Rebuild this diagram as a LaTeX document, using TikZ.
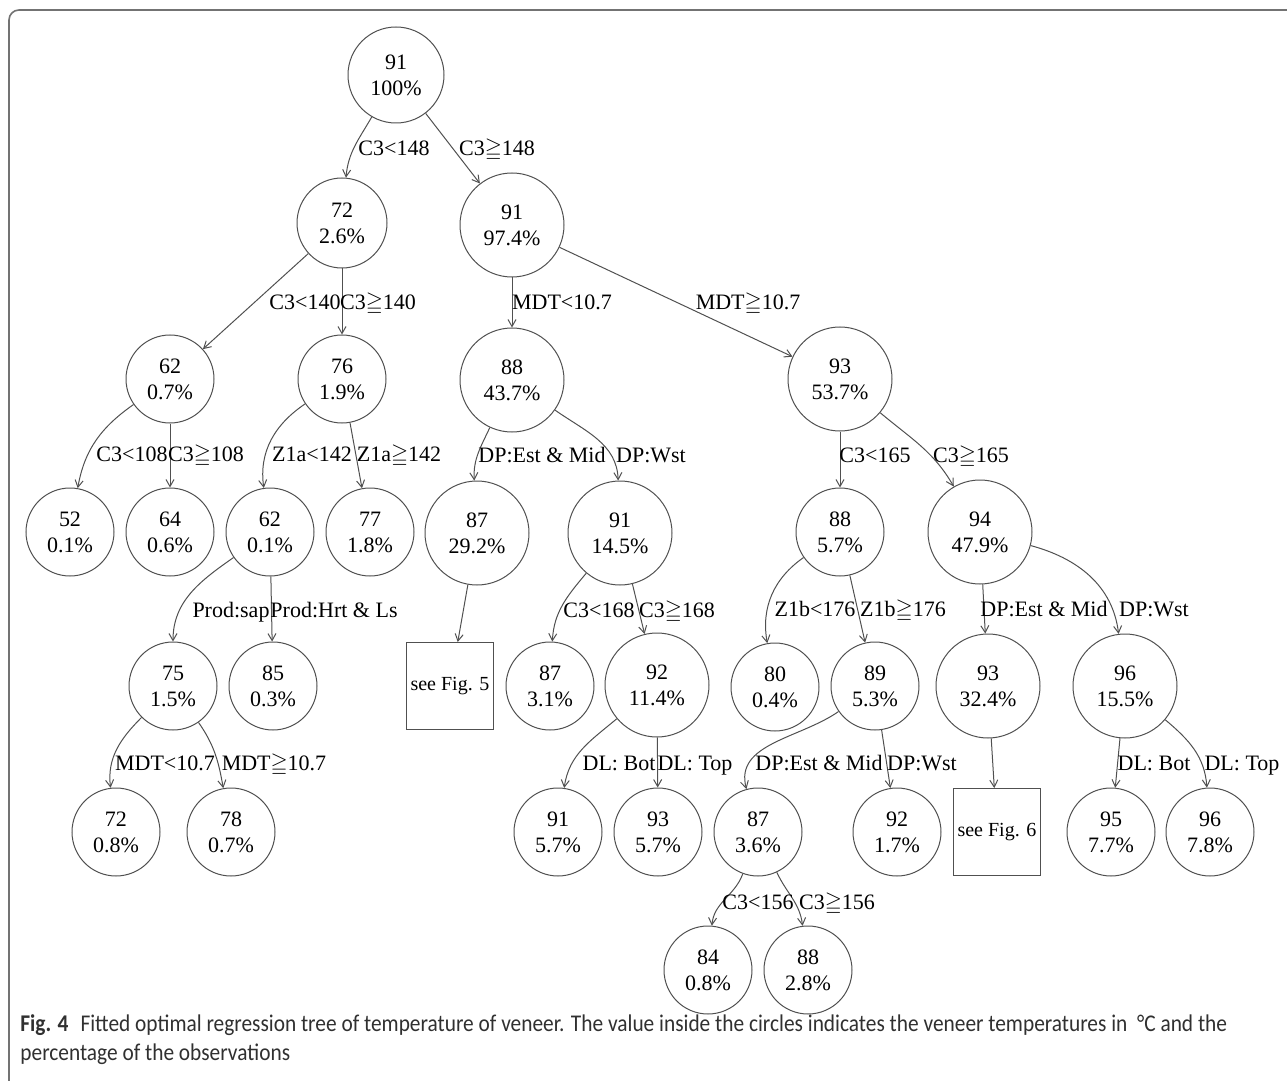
\documentclass[tikz,border=0pt]{standalone}
\usepackage{fontspec}
\usepackage{amssymb}
\setmainfont{Liberation Serif}
\newfontfamily\capfont[FakeStretch=0.89]{Carlito}
\usetikzlibrary{arrows.meta}
\definecolor{treegray}{HTML}{505050}
\definecolor{captext}{HTML}{303030}

\begin{document}
\begin{tikzpicture}[
    x=0.5pt, y=-0.5pt,
    font=\fontsize{11}{13}\selectfont,
    tnode/.style={circle,draw=treegray,line width=0.5pt,inner sep=0pt,minimum size=44pt,align=center},
    wide/.style={tnode,minimum size=52pt},
    figbox/.style={rectangle,draw=treegray,line width=0.5pt,inner sep=0pt,minimum size=43.5pt,font=\fontsize{10}{12}\selectfont},
    cond/.style={inner sep=0pt,text height=7.3pt,text depth=0pt},
    line/.style={treegray,line width=0.5pt,-{Straight Barb[length=3.5pt,width=4pt]}}
]
\useasboundingbox (0,0) rectangle (1287,1081);

% Frame
\draw[treegray!80,line width=0.8pt,rounded corners=5pt] (1287,10) -- (9,10) -- (9,1081);

% Tree nodes
\node[tnode,minimum size=48pt] (r) at (396,75) {91\\100\%};

\node[tnode,minimum size=45pt] (a) at (342,223) {72\\2.6\%};
\node[wide] (b) at (512,225) {91\\97.4\%};

\node[tnode] (aa) at (170,379) {62\\0.7\%};
\node[tnode] (ab) at (342,379) {76\\1.9\%};
\node[wide] (ba) at (512,380) {88\\43.7\%};
\node[wide] (bb) at (840,379) {93\\53.7\%};

\node[tnode] (aaa) at (70,532) {52\\0.1\%};
\node[tnode] (aab) at (170,532) {64\\0.6\%};
\node[tnode] (aba) at (270,532) {62\\0.1\%};
\node[tnode] (abb) at (370,532) {77\\1.8\%};
\node[wide] (baa) at (477,533) {87\\29.2\%};
\node[wide] (bab) at (620,533) {91\\14.5\%};
\node[tnode] (bba) at (840,532) {88\\5.7\%};
\node[wide] (bbb) at (980,532) {94\\47.9\%};

\node[tnode] (abaa) at (173,686) {75\\1.5\%};
\node[tnode] (abab) at (273,686) {85\\0.3\%};
\node[figbox] (baaa) at (450,686) {see Fig. 5};
\node[tnode] (baba) at (550,686) {87\\3.1\%};
\node[wide] (babb) at (657,685) {92\\11.4\%};
\node[tnode] (bbaa) at (775,687) {80\\0.4\%};
\node[tnode] (bbab) at (875,686) {89\\5.3\%};
\node[wide] (bbba) at (988,686) {93\\32.4\%};
\node[wide] (bbbb) at (1125,686) {96\\15.5\%};

\node[tnode] (abaaa) at (116,832) {72\\0.8\%};
\node[tnode] (abaab) at (231,832) {78\\0.7\%};
\node[tnode] (babba) at (558,832) {91\\5.7\%};
\node[tnode] (babbb) at (658,832) {93\\5.7\%};
\node[tnode] (bbaba) at (758,832) {87\\3.6\%};
\node[tnode] (bbabb) at (897,832) {92\\1.7\%};
\node[figbox] (bbbaa) at (997,832) {see Fig. 6};
\node[tnode] (bbbba) at (1111,832) {95\\7.7\%};
\node[tnode] (bbbbb) at (1210,832) {96\\7.8\%};

\node[tnode] (bbabaa) at (708,970) {84\\0.8\%};
\node[tnode] (bbabab) at (808,970) {88\\2.8\%};

% Straight splits
\draw[line] (r) -- (b);
\draw[line] (a) -- (aa);
\draw[line] (a) -- (ab);
\draw[line] (b) -- (ba);
\draw[line] (b) -- (bb);
\draw[line] (aa) -- (aab);
\draw[line] (ab) -- (abb);
\draw[line] (bb) -- (bba);
\draw[line] (aba) -- (abab);
\draw[line] (baa) -- (baaa);
\draw[line] (bab) -- (babb);
\draw[line] (bba) -- (bbab);
\draw[line] (bbb) -- (bbba);
\draw[line] (babb) -- (babbb);
\draw[line] (bbab) -- (bbabb);
\draw[line] (bbba) -- (bbbaa);
\draw[line] (bbbb) -- (bbbba);

% Curved splits
\draw[line] (r) to[out=240,in=85] (a);
\draw[line] (aa) to[out=215,in=80] (aaa);
\draw[line] (ab) to[out=214,in=98] (aba);
\draw[line] (ba) to[out=245,in=93] (baa);
\draw[line] (ba) to[out=-35,in=92] (bab);
\draw[line] (bb) to[out=-40,in=120] (bbb);
\draw[line] (aba) to[out=215,in=90] (abaa);
\draw[line] (bab) to[out=230,in=87] (baba);
\draw[line] (bba) to[out=215,in=100] (bbaa);
\draw[line] (bbb) to[out=-15,in=97] (bbbb);
\draw[line] (abaa) to[out=225,in=97] (abaaa);
\draw[line] (abaa) to[out=-55,in=100] (abaab);
\draw[line] (babb) to[out=220,in=82] (babba);
\draw[line] (bbab) to[out=215,in=105] (bbaba);
\draw[line] (bbbb) to[out=-40,in=94] (bbbbb);
\draw[line] (bbaba) to[out=250,in=85] (bbabaa);
\draw[line] (bbaba) to[out=-65,in=97] (bbabab);

% Split conditions
\node[cond] (rL) at (394,148) {C3<148};
\node[cond] (rR) at (497,148) {C3$\geqq$148};
\node[cond] (aL) at (305,302) {C3<140};
\node[cond] (aR) at (378,302) {C3$\geqq$140};
\node[cond] (bL) at (562,302) {MDT<10.7};
\node[cond] (bR) at (748,302) {MDT$\geqq$10.7};
\node[cond] (aaL) at (132,454) {C3<108};
\node[cond] (aaR) at (206,454) {C3$\geqq$108};
\node[cond] (abL) at (312,454) {Z1a<142};
\node[cond] (abR) at (399,454) {Z1a$\geqq$142};
\node[cond] (baL) at (542,455) {DP:Est \& Mid};
\node[cond] (baR) at (651,455) {DP:Wst};
\node[cond] (bbL) at (875,455) {C3<165};
\node[cond] (bbR) at (971,455) {C3$\geqq$165};
\node[cond] (abaL) at (231,610) {Prod:sap};
\node[cond] (abaR) at (334,610) {Prod:Hrt \& Ls};
\node[cond] (babL) at (599,610) {C3<168};
\node[cond] (babR) at (677,610) {C3$\geqq$168};
\node[cond] (bbaL) at (815,609) {Z1b<176};
\node[cond] (bbaR) at (903,609) {Z1b$\geqq$176};
\node[cond] (bbbL) at (1044,609) {DP:Est \& Mid};
\node[cond] (bbbR) at (1154,609) {DP:Wst};
\node[cond] (abaaL) at (165,763) {MDT<10.7};
\node[cond] (abaaR) at (274,763) {MDT$\geqq$10.7};
\node[cond] (babbL) at (619,763) {DL: Bot};
\node[cond] (babbR) at (695,763) {DL: Top};
\node[cond] (bbabL) at (819,763) {DP:Est \& Mid};
\node[cond] (bbabR) at (922,763) {DP:Wst};
\node[cond] (bbbbL) at (1154,763) {DL: Bot};
\node[cond] (bbbbR) at (1242,763) {DL: Top};
\node[cond] (bbabaL) at (758,902) {C3<156};
\node[cond] (bbabaR) at (837,902) {C3$\geqq$156};

% Caption
\node[anchor=north west,align=left,inner sep=0pt,text=captext,
      font=\capfont\fontsize{12}{14.5}\selectfont] (cap) at (20,1014)
  {\textbf{Fig. 4}\enspace Fitted optimal regression tree of temperature of veneer. The value inside the circles indicates the veneer temperatures in \ \textdegree C and the\\
   percentage of the observations};

\end{tikzpicture}
\end{document}
